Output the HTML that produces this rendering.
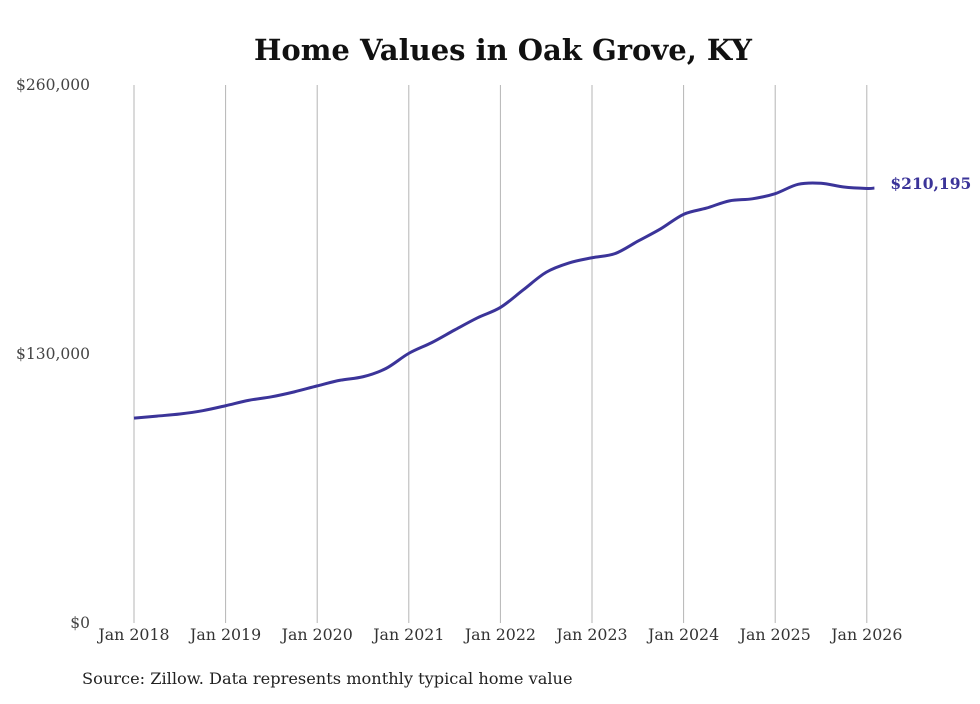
<!DOCTYPE html>
<html><head><meta charset="utf-8"><style>
body{margin:0;background:#fff;}
svg text{font-family:"DejaVu Serif","Liberation Serif",serif;}
</style></head><body>
<svg id="chart" width="980" height="699" xmlns="http://www.w3.org/2000/svg">
<text x="503" y="60" text-anchor="middle" font-size="29" font-weight="bold" fill="#111">Home Values in Oak Grove, KY</text>
<g id="grid"></g><g id="yaxis"></g><g id="xaxis"></g><g id="series"></g>
<text x="82" y="684" font-size="16.2" fill="#222">Source: Zillow. Data represents monthly typical home value</text>
</svg>
<script>
const yTicks=[0,130000,260000];
const yTickLabels=["$0","$130,000","$260,000"];
const xTickYears=[2018,2019,2020,2021,2022,2023,2024,2025,2026];
const dates=[2018,2018.25,2018.5,2018.75,2019,2019.25,2019.5,2019.75,2020,2020.25,2020.5,2020.75,2021,2021.25,2021.5,2021.75,2022,2022.25,2022.5,2022.75,2023,2023.25,2023.5,2023.75,2024,2024.25,2024.5,2024.75,2025,2025.25,2025.5,2025.75,2026,2026.083];
const values=[99000,100000,101000,102600,105000,107600,109300,111700,114600,117300,119000,123000,130300,135500,141600,147500,152500,161000,169500,174000,176500,178500,184500,190500,197500,200500,204000,205000,207500,212000,212500,210700,210000,210195];
const lastLabel="$210,195";
const NS="http://www.w3.org/2000/svg";
const x=d=>134+(d-2018)*91.6;
const y=v=>623-v/260000*538;
function mk(tag,attrs,parent){const e=document.createElementNS(NS,tag);for(const k in attrs)e.setAttribute(k,attrs[k]);parent.appendChild(e);return e;}
const grid=document.getElementById('grid'),ya=document.getElementById('yaxis'),xa=document.getElementById('xaxis'),ser=document.getElementById('series');
xTickYears.forEach(yr=>{
 const l=mk('line',{x1:x(yr),x2:x(yr),y1:85,y2:623,stroke:'#b5b5b5','stroke-width':1},grid);
 
 
 const t=mk('text',{x:x(yr),y:640,'text-anchor':'middle','font-size':15.8,fill:'#333'},xa);
 t.textContent='Jan '+yr;
 
 
});
yTicks.forEach((v,i)=>{
 const t=mk('text',{x:90,y:y(v)+5,'text-anchor':'end','font-size':15.5,fill:'#444'},ya);
 t.textContent=yTickLabels[i];
 
 
});
const pts=dates.map((d,i)=>[x(d),y(values[i])]);
let p='M'+pts[0][0]+','+pts[0][1];
for(let i=0;i<pts.length-1;i++){
 const p0=pts[Math.max(0,i-1)],p1=pts[i],p2=pts[i+1],p3=pts[Math.min(pts.length-1,i+2)];
 const c1=[p1[0]+(p2[0]-p0[0])/6,p1[1]+(p2[1]-p0[1])/6],c2=[p2[0]-(p3[0]-p1[0])/6,p2[1]-(p3[1]-p1[1])/6];
 p+=` C${c1[0]},${c1[1]} ${c2[0]},${c2[1]} ${p2[0]},${p2[1]}`;
}
const line=mk('path',{d:p,fill:'none',stroke:'#3b3499','stroke-width':3,'stroke-linejoin':'round'},ser);


const last=pts[pts.length-1];
const lbl=mk('text',{x:last[0]+16,y:last[1]+1,'font-size':15.5,'font-weight':'bold',fill:'#3b3499'},ser);
lbl.textContent=lastLabel;


</script>
</body></html>
